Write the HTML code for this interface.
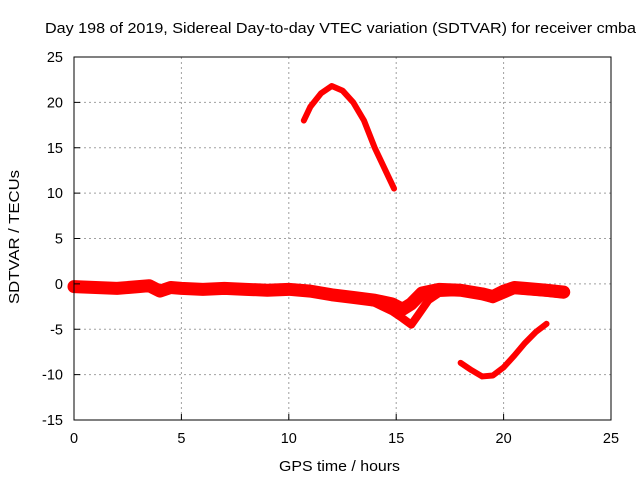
<!DOCTYPE html>
<html><head><meta charset="utf-8"><style>
body{margin:0;background:#fff}
svg text{font-family:"Liberation Sans",sans-serif;font-size:14.5px;fill:#000}
svg text.big{font-size:15px}
</style></head><body>
<svg id="chart" width="640" height="480">
<g id="grid"></g>
<g id="series"></g>
<rect x="74" y="57" width="537" height="363" fill="none" stroke="#000" stroke-width="1"/>
<g id="ticks"></g>
<text class="big" x="45" y="33" textLength="591" lengthAdjust="spacingAndGlyphs">Day 198 of 2019, Sidereal Day-to-day VTEC variation (SDTVAR) for receiver cmba</text>
<text class="big" x="279" y="471" textLength="121" lengthAdjust="spacingAndGlyphs">GPS time / hours</text>
<text class="big" x="0" y="0" textLength="134" lengthAdjust="spacingAndGlyphs" transform="translate(19,304) rotate(-90)">SDTVAR / TECUs</text>
</svg>
<script>
const xTicks=[0,5,10,15,20,25];
const yTicks=[25,20,15,10,5,0,-5,-10,-15];
const arcTopX=[10.7,11,11.5,12,12.5,13,13.5,14,14.5,14.9];
const arcTopY=[18,19.5,21,21.8,21.3,20,18,15,12.5,10.5];
const bandX=[0,1,2,3,3.5,4,4.5,5,6,7,8,9,10,11,12,13,14,14.8,15.3,15.7,16.2,17,18,19,19.5,20,20.5,21,22,22.8];
const bandY=[-0.3,-0.4,-0.5,-0.3,-0.2,-0.8,-0.4,-0.5,-0.6,-0.5,-0.6,-0.7,-0.6,-0.8,-1.2,-1.5,-1.8,-2.2,-2.8,-2.2,-1,-0.6,-0.7,-1.1,-1.4,-0.8,-0.4,-0.5,-0.7,-0.9];
const band2X=[13.5,14,14.8,15.3,15.7,16,16.5,17,18,19,19.5,20,20.5,21,22,22.8];
const band2Y=[-1.8,-2.1,-3,-3.8,-4.5,-3.5,-1.8,-1.0,-0.9,-1.3,-1.7,-1.2,-0.7,-0.8,-1,-1.2];
const arcLowX=[18,18.5,19,19.5,20,20.5,21,21.5,22];
const arcLowY=[-8.7,-9.5,-10.2,-10.1,-9.2,-7.9,-6.5,-5.3,-4.4];
const X=v=>74+v*537/25, Y=v=>57+(25-v)*363/40;
const NS="http://www.w3.org/2000/svg";
const g=document.getElementById('grid'),t=document.getElementById('ticks'),s=document.getElementById('series');
function mk(tag,a,p){const e=document.createElementNS(NS,tag);for(const k in a)e.setAttribute(k,a[k]);p.appendChild(e);return e;}
xTicks.forEach(v=>{
 if(v>0&&v<25){const l=mk('line',{x1:X(v),x2:X(v),y1:57,y2:420,stroke:'#a0a0a0','stroke-dasharray':'2,3'},g);
 
 }
 const tk=mk('line',{x1:X(v),x2:X(v),y1:420,y2:414,stroke:'#000'},t);
 
 
 const tx=mk('text',{x:X(v),y:443,'text-anchor':'middle'},t);tx.textContent=v;
 
 
});
yTicks.forEach(v=>{
 if(v<25&&v>-15){const l=mk('line',{x1:74,x2:611,y1:Y(v),y2:Y(v),stroke:'#a0a0a0','stroke-dasharray':'2,3'},g);
 
 }
 const tk=mk('line',{x1:74,x2:80,y1:Y(v),y2:Y(v),stroke:'#000'},t);
 
 
 const tx=mk('text',{x:63,y:Y(v)+5,'text-anchor':'end'},t);tx.textContent=v;
 
 
});
function line(xs,ys,w,name){
 const p=mk('polyline',{points:xs.map((x,i)=>X(x)+','+Y(ys[i])).join(' '),fill:'none',stroke:'#ff0000','stroke-width':w,'stroke-linejoin':'round','stroke-linecap':'round'},s);
 
 
}
line(bandX,bandY,13,'series-band-upper');
line(band2X,band2Y,8,'series-band-lower');
line(arcTopX,arcTopY,6,'series-arc-top');
line(arcLowX,arcLowY,6,'series-arc-low');
</script>
</body></html>
